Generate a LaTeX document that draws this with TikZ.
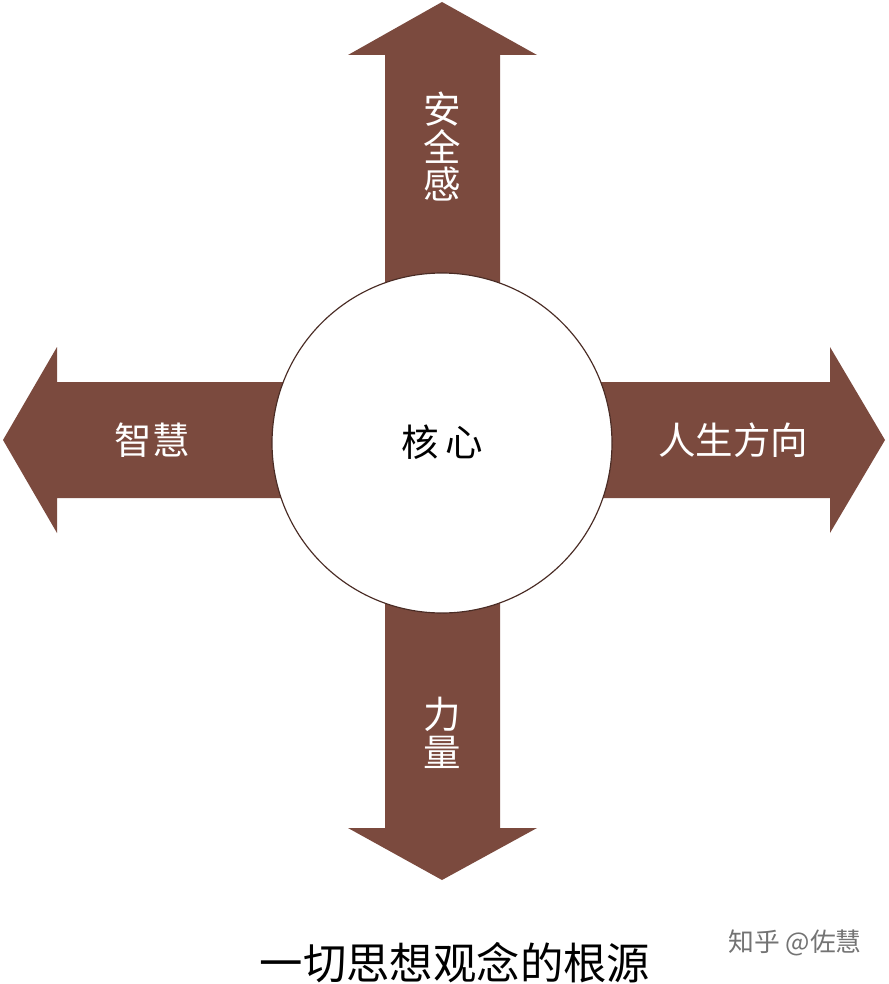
\documentclass[tikz,border=0pt]{standalone}
\usepackage{fontspec}
\newfontfamily\cjk{Noto Sans CJK SC}
\usetikzlibrary{positioning}
\definecolor{arrowbrown}{HTML}{7B4A3E}
\tikzset{
  arrowfill/.style={fill=arrowbrown, draw=none},
  armlabel/.style={text=white, font=\cjk\fontsize{32}{36}\selectfont, align=center},
}
\begin{document}
\begin{tikzpicture}[x=0.03cm, y=-0.03cm]
        \useasboundingbox (0,0) rectangle (888,984);
        % arrows
        \fill [arrowfill] (385,445) -- (385,55) -- (348,55) -- (442,2) -- (537,55) -- (500,55) -- (500,445) -- cycle;
        \fill [arrowfill] (385,445) -- (385,828) -- (348,828) -- (442,880) -- (537,828) -- (500,828) -- (500,445) -- cycle;
        \fill [arrowfill] (442,382) -- (57,382) -- (57,347) -- (3,440) -- (57,533) -- (57,498) -- (442,498) -- cycle;
        \fill [arrowfill] (442,382) -- (830,382) -- (830,347) -- (885,440) -- (830,533) -- (830,498) -- (442,498) -- cycle;
        % core
        \draw [fill=white, draw=arrowbrown!60!black, line width=1pt] (442,443) circle (170);
        \node (core) at (442,442) {\cjk\fontsize{32}{36}\selectfont 核\,心};
        \node [armlabel] (safety) at (442,147) {安\\[-4pt]全\\[-4pt]感};
        \node [armlabel] (wisdom) at (152,440) {智慧};
        \node [armlabel] (direction) at (733,440) {人生方向};
        \node [armlabel] (power) at (442,733) {力\\[-4pt]量};
        % caption
        \node (caption) at (455,963) {\cjk\fontsize{37}{40}\selectfont 一切思想观念的根源};
        \node [text=black!55] (mark) at (795,943) {\cjk\fontsize{22}{26}\selectfont 知乎 @佐慧};
\end{tikzpicture}
\end{document}
